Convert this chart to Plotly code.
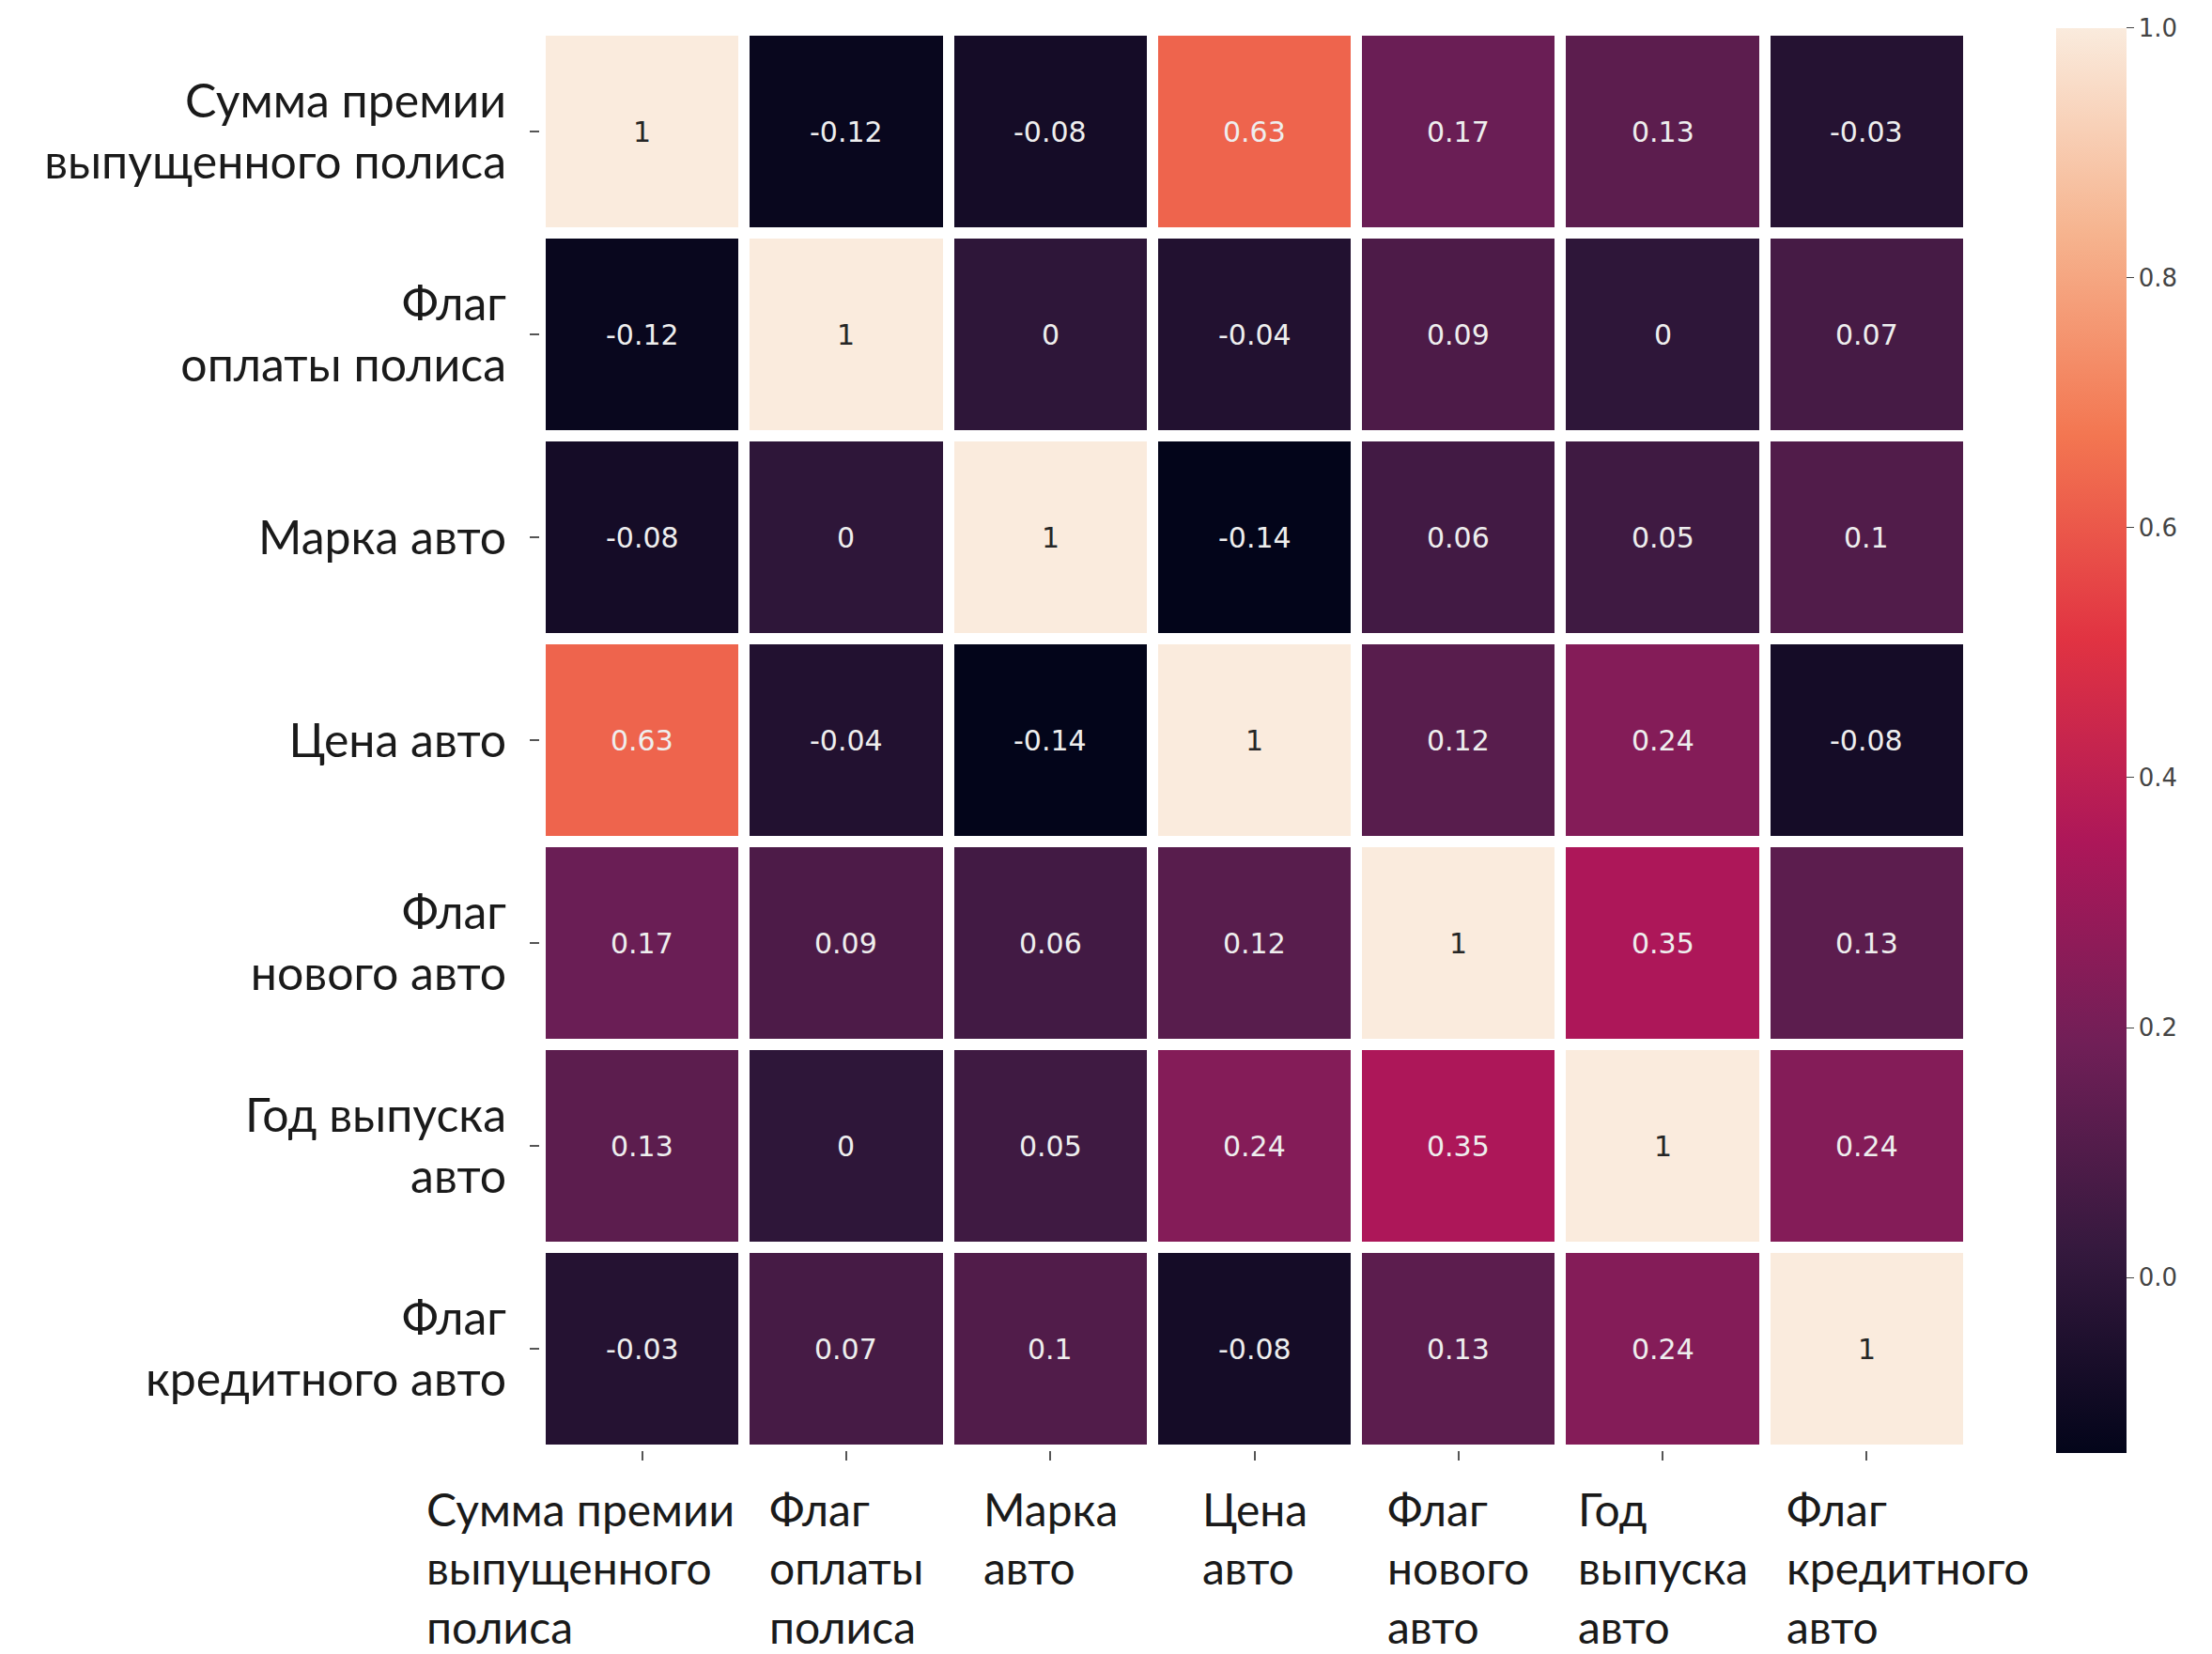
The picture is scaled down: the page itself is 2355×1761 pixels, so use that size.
import plotly.graph_objects as go

row_labels = [
    "Сумма премии<br>выпущенного полиса",
    "Флаг<br>оплаты полиса",
    "Марка авто",
    "Цена авто",
    "Флаг<br>нового авто",
    "Год выпуска<br>авто",
    "Флаг<br>кредитного авто",
]
col_labels = [
    "Сумма премии<br>выпущенного<br>полиса",
    "Флаг<br>оплаты<br>полиса",
    "Марка<br>авто",
    "Цена<br>авто",
    "Флаг<br>нового<br>авто",
    "Год<br>выпуска<br>авто",
    "Флаг<br>кредитного<br>авто",
]
corr = [
    [1, -0.12, -0.08, 0.63, 0.17, 0.13, -0.03],
    [-0.12, 1, 0, -0.04, 0.09, 0, 0.07],
    [-0.08, 0, 1, -0.14, 0.06, 0.05, 0.1],
    [0.63, -0.04, -0.14, 1, 0.12, 0.24, -0.08],
    [0.17, 0.09, 0.06, 0.12, 1, 0.35, 0.13],
    [0.13, 0, 0.05, 0.24, 0.35, 1, 0.24],
    [-0.03, 0.07, 0.1, -0.08, 0.13, 0.24, 1],
]
cbar_ticks = [0.0, 0.2, 0.4, 0.6, 0.8, 1.0]

rocket = [
    [0.0, "#03051a"],
    [0.143, "#35193e"],
    [0.286, "#701f57"],
    [0.429, "#ad1759"],
    [0.571, "#e13342"],
    [0.714, "#f37651"],
    [0.857, "#f6b48f"],
    [1.0, "#faebdd"],
]

n = len(corr)
xs = list(range(n))
ys = list(range(n))

fig = go.Figure(go.Heatmap(
    z=corr, x=xs, y=ys,
    colorscale=rocket, zmin=-0.14, zmax=1.0,
    xgap=12, ygap=12,
    colorbar=dict(
        thickness=75, len=1517, lenmode="pixels", y=0.5, yanchor="middle",
        x=1.0612, xanchor="left", xpad=0, ypad=0, outlinewidth=0,
        tickvals=cbar_ticks, ticktext=[f"{v:.1f}" for v in cbar_ticks],
        ticks="outside", ticklen=8, tickcolor="#444",
        tickfont=dict(family="DejaVu Sans", size=26, color="#444"),
    ),
    hoverongaps=False,
))

# cell value annotations
for i in range(n):
    for j in range(n):
        v = corr[i][j]
        fig.add_annotation(
            x=xs[j], y=ys[i], xref="x", yref="y", text=f"{v:g}",
            showarrow=False,
            font=dict(family="DejaVu Sans", size=30,
                      color="#262626" if v > 0.8 else "#eeeeee"),
        )

# x-axis labels (multi-line, left-aligned blocks centred on ticks)
x_shift = [-66, 0, 0, 0, 0, 0, 44]
for j in range(n):
    fig.add_annotation(
        x=xs[j], y=0, xref="x", yref="paper", yanchor="top", xanchor="center",
        yshift=-32, xshift=x_shift[j],
        text=col_labels[j], showarrow=False, align="left",
        font=dict(family="Lato", size=48, color="#1a1a1a"),
    )

fig.update_xaxes(
    tickvals=xs, ticktext=[""] * n, ticks="outside", ticklen=10,
    tickcolor="#555", tickwidth=2, showgrid=False, zeroline=False,
    showline=False, range=[-0.5, n - 0.5],
)
fig.update_yaxes(
    tickvals=ys, ticktext=row_labels, ticks="outside", ticklen=10,
    tickcolor="#555", tickwidth=2, showgrid=False, zeroline=False,
    showline=False, range=[n - 0.5, -0.5], ticklabelstandoff=15,
    tickfont=dict(family="Lato", size=50, color="#1a1a1a"),
)

fig.update_layout(
    width=2355, height=1761,
    margin=dict(l=567, r=267, t=24, b=225, autoexpand=False),
    plot_bgcolor="white", paper_bgcolor="white",
)

fig.write_html("out.html")
